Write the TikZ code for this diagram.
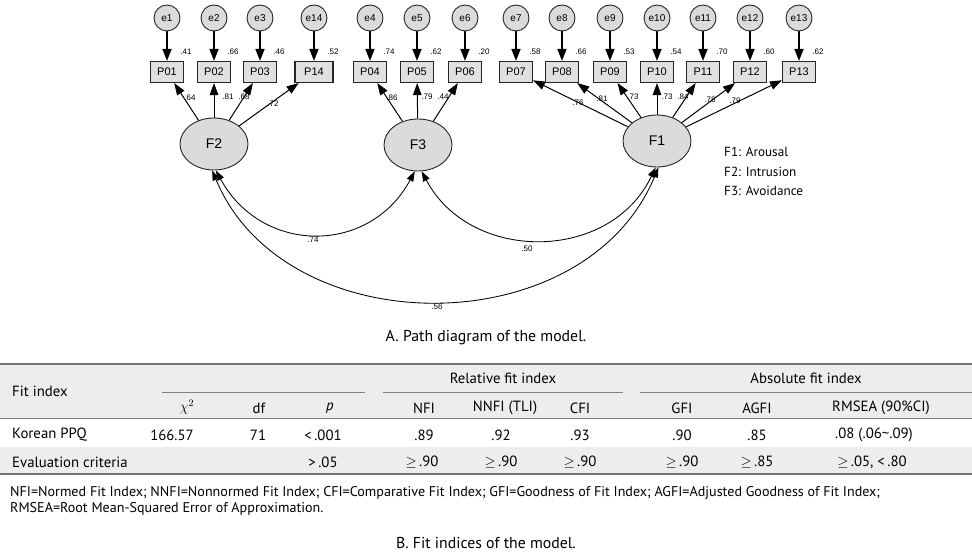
\documentclass[tikz,border=0pt]{standalone}
\usepackage{fontspec}
\setmainfont{PT Sans}
\newfontfamily\arialf{Liberation Sans}
\usetikzlibrary{shapes.geometric,arrows.meta}
\begin{document}
\begin{tikzpicture}[x=1pt,y=-1pt,
  err/.style={circle,draw=black!85,line width=0.9pt,fill=black!14,minimum size=26pt,inner sep=0pt,font=\arialf\fontsize{10}{11}\selectfont},
  obs/.style={rectangle,draw=black!85,line width=1.1pt,fill=black!12,minimum width=33pt,minimum height=21pt,inner sep=0pt,font=\arialf\fontsize{11}{12}\selectfont},
  lat/.style={ellipse,draw=black!85,line width=0.9pt,fill=black!14,minimum width=68pt,minimum height=52pt,inner sep=0pt,font=\arialf\fontsize{14}{16}\selectfont},
  errarr/.style={line width=1.6pt,-{Triangle[length=12pt,width=9pt]}},
  ldarr/.style={line width=1pt,-{Triangle[length=12pt,width=8.5pt]}},
  covarr/.style={line width=0.85pt,{Triangle[length=10pt,width=7pt]}-{Triangle[length=10pt,width=7pt]}},
  num/.style={font=\arialf\fontsize{8}{9}\selectfont,inner sep=0pt},
  leg/.style={anchor=west,inner sep=0pt,font=\fontsize{13.2}{15}\selectfont},
  cell/.style={inner sep=0pt,font=\fontsize{14.8}{17}\selectfont},
  note/.style={anchor=west,inner sep=0pt,font=\fontsize{14.1}{16}\selectfont},
  captxt/.style={inner sep=0pt,font=\fontsize{15.8}{18}\selectfont},
  rulebold/.style={draw=black!55,line width=1.4pt},
  thinrule/.style={draw=black!50,line width=0.8pt}
]
\useasboundingbox (0,0) rectangle (972,553);

% indicators and errors
\foreach \p/\e/\x/\r/\w in {P01/e1/167/.41/33,P02/e2/214/.66/33,P03/e3/260/.46/33,P14/e14/314/.52/38,
  P04/e4/370/.74/33,P05/e5/417/.62/33,P06/e6/465/.20/33,
  P07/e7/516/.58/33,P08/e8/562/.66/33,P09/e9/610/.53/33,P10/e10/657/.54/33,P11/e11/703/.70/33,P12/e12/750/.60/33,P13/e13/799/.62/33}{
  \node[err] (\e) at (\x,18) {\e};
  \node[obs,minimum width=\w pt] (\p) at (\x,72) {\p};
  \draw[errarr] (\e) -- (\p);
  \node[num] (r\p) at (\x+19,52) {\r};
}

% latent factors
\node[lat] (F2) at (214,144) {F2};
\node[lat] (F3) at (418,145) {F3};
\node[lat] (F1) at (657,141) {F1};

% loadings
\foreach \f/\p in {F2/P01,F2/P02,F2/P03,F2/P14,F3/P04,F3/P05,F3/P06,
  F1/P07,F1/P08,F1/P09,F1/P10,F1/P11,F1/P12,F1/P13}{
  \draw[ldarr] (\f) -- (\p);
}
\node[num] (l01) at (190,98) {.64};
\node[num] (l02) at (228,97) {.81};
\node[num] (l03) at (244,97) {.68};
\node[num] (l14) at (273,104) {.72};
\node[num] (l04) at (392,98) {.86};
\node[num] (l05) at (427,97) {.79};
\node[num] (l06) at (443,97) {.44};
\node[num] (l07) at (578,103) {.76};
\node[num] (l08) at (602,99) {.81};
\node[num] (l09) at (633,97) {.73};
\node[num] (l10) at (667,97) {.73};
\node[num] (l11) at (683,97) {.84};
\node[num] (l12) at (710,100) {.78};
\node[num] (l13) at (735,101) {.79};

% covariances
\draw[covarr] (F2.-86) .. controls (262,255) and (370,255) .. (F3.-97);
\draw[covarr] (F3.-82) .. controls (470,263) and (610,263) .. (F1.-93);
\draw[covarr] (F2.-94) .. controls (285,345) and (585,345) .. (F1.-87);
\node[num] (c23) at (313,240) {.74};
\node[num] (c31) at (527,249) {.50};
\node[num] (c21) at (437,307) {.56};

% legend
\node[leg] (lg1) at (724,152) {F1: Arousal};
\node[leg] (lg2) at (724,172) {F2: Intrusion};
\node[leg] (lg3) at (724,191) {F3: Avoidance};

\node[captxt] (capA) at (486,338) {A. Path diagram of the model.};

% table
\fill[black!7] (0,364) rectangle (972,418);
\fill[black!7] (0,447) rectangle (972,474);
\path[rulebold] (0,364) -- (972,364);
\path[rulebold] (0,474) -- (972,474);
\path[thinrule] (0,418) -- (972,418);
\path[thinrule] (162,392) -- (365,392);
\path[thinrule] (383,392) -- (623,392);
\path[thinrule] (640,392) -- (972,392);

\node[cell,anchor=west] (h0) at (12,391) {Fit index};
\node[cell] (h1) at (503,378) {Relative fit index};
\node[cell] (h2) at (806,378) {Absolute fit index};
\node[cell] (hc) at (187,407) {$\chi^2$};
\node[cell] (hd) at (259,408) {df};
\node[cell] (hp) at (330,408) {\textit{p}};
\node[cell] (hn) at (424,408) {NFI};
\node[cell] (hnn) at (505,408) {NNFI (TLI)};
\node[cell] (hcf) at (580,408) {CFI};
\node[cell] (hg) at (682,408) {GFI};
\node[cell] (hag) at (757,408) {AGFI};
\node[cell] (hr) at (881,408) {RMSEA (90\%CI)};

\node[cell,anchor=west] (k0) at (12,435) {Korean PPQ};
\node[cell] (k1) at (172,435) {166.57};
\node[cell] (k2) at (258,435) {71};
\node[cell] (k3) at (323,435) {<\,.001};
\node[cell] (k4) at (424,435) {.89};
\node[cell] (k5) at (501,435) {.92};
\node[cell] (k6) at (580,435) {.93};
\node[cell] (k7) at (682,435) {.90};
\node[cell] (k8) at (757,435) {.85};
\node[cell] (k9) at (874,435) {.08 (.06\textasciitilde.09)};

\node[cell,anchor=west] (v0) at (12,462) {Evaluation criteria};
\node[cell] (v3) at (323,462) {>\,.05};
\node[cell] (v4) at (422,462) {$\geq$\,.90};
\node[cell] (v5) at (501,462) {$\geq$\,.90};
\node[cell] (v6) at (580,462) {$\geq$\,.90};
\node[cell] (v7) at (682,462) {$\geq$\,.90};
\node[cell] (v8) at (757,462) {$\geq$\,.85};
\node[cell] (v9) at (872,462) {$\geq$\,.05, <\,.80};

\node[note] (n1) at (10,493) {NFI=Normed Fit Index; NNFI=Nonnormed Fit Index; CFI=Comparative Fit Index; GFI=Goodness of Fit Index; AGFI=Adjusted Goodness of Fit Index;};
\node[note] (n2) at (10,509) {RMSEA=Root Mean-Squared Error of Approximation.};

\node[captxt] (capB) at (486,543) {B. Fit indices of the model.};
\end{tikzpicture}
\end{document}
